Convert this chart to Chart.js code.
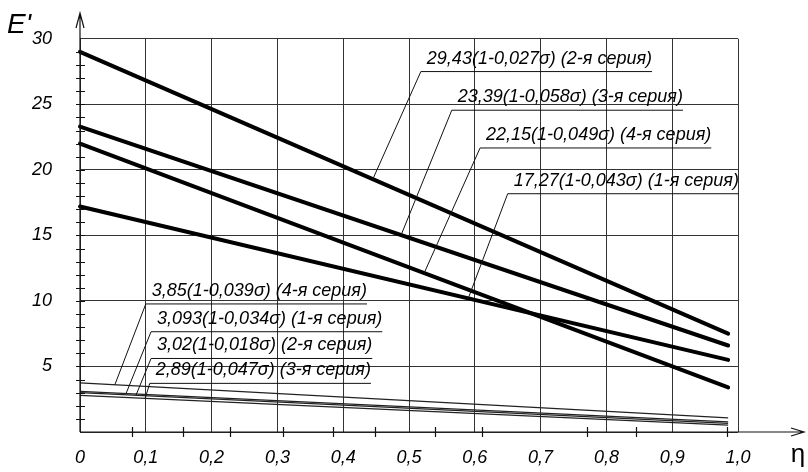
<!DOCTYPE html>
<html>
<head>
<meta charset="utf-8">
<script src="https://cdn.jsdelivr.net/npm/chart.js@4.4.1/dist/chart.umd.min.js"></script>
<style>
  body { margin: 0; background: #fff; }
  canvas { display: block; }
</style>
</head>
<body>
<canvas id="eChart" width="808" height="472"></canvas>
<script>
// eta points where every line starts and stops
const etaPts = [0, 0.985];

// thick lines E'
const s2Values = [29.0, 7.5];   // 29,43 (2-я серия)
const s3Values = [23.3, 6.6];   // 23,39 (3-я серия)
const s4Values = [22.0, 3.4];   // 22,15 (4-я серия)
const s1Values = [17.2, 5.5];   // 17,27 (1-я серия)
// thin lines
const t4Values = [3.75, 1.08];  // 3,85 (4-я серия)
const t1Values = [3.1, 0.78];   // 3,093 (1-я серия)
const t2Values = [3.0, 0.66];   // 3,02 (2-я серия)
const t3Values = [2.8, 0.53];   // 2,89 (3-я серия)

const xTickLabels = ['0', '0,1', '0,2', '0,3', '0,4', '0,5', '0,6', '0,7', '0,8', '0,9', '1,0'];
const yTickLabels = ['', '5', '10', '15', '20', '25', '30'];
const xMinorTicks = [0.079, 0.157, 0.228, 0.309, 0.385, 0.448, 0.540, 0.611, 0.771, 0.845, 0.983];

// callouts: text, dataset index, eta where leader hits the line, underline start (eta, E')
const calloutText = [
  '29,43(1-0,027σ) (2-я серия)',
  '23,39(1-0,058σ) (3-я серия)',
  '22,15(1-0,049σ) (4-я серия)',
  '17,27(1-0,043σ) (1-я серия)',
  '3,85(1-0,039σ) (4-я серия)',
  '3,093(1-0,034σ) (1-я серия)',
  '3,02(1-0,018σ) (2-я серия)',
  '2,89(1-0,047σ) (3-я серия)'
];
const calloutSeries = [0, 1, 2, 3, 4, 5, 6, 7];
const calloutEta = [0.445, 0.488, 0.523, 0.590, 0.053, 0.070, 0.085, 0.099];
const calloutX = [0.518, 0.565, 0.608, 0.650, 0.100, 0.108, 0.108, 0.106];
const calloutY = [27.5, 24.55, 21.67, 18.18, 9.77, 7.65, 5.61, 3.71];

const FONT = '"Liberation Sans", Arial, sans-serif';

function pts(values) {
  return etaPts.map((e, i) => ({ x: e, y: values[i] }));
}

function thick(values) {
  return { data: pts(values), borderColor: '#000', borderWidth: 4, borderCapStyle: 'round', pointRadius: 0 };
}
function thin(values) {
  return { data: pts(values), borderColor: '#222', borderWidth: 1.2, pointRadius: 0 };
}

const sketchPlugin = {
  id: 'sketch',
  afterDatasetsDraw(chart) {
    const { ctx, chartArea: a, scales: { x, y } } = chart;
    ctx.save();
    ctx.strokeStyle = '#111';
    ctx.lineWidth = 1.2;

    // axes with open arrows
    ctx.beginPath();
    ctx.moveTo(a.left, a.bottom); ctx.lineTo(a.left, 13);
    ctx.moveTo(a.left - 4, 28); ctx.lineTo(a.left, 13); ctx.lineTo(a.left + 4, 28);
    ctx.moveTo(a.left, a.bottom); ctx.lineTo(804, a.bottom);
    ctx.moveTo(791, a.bottom - 4); ctx.lineTo(804, a.bottom); ctx.lineTo(791, a.bottom + 4);
    ctx.stroke();

    // minor ticks
    ctx.beginPath();
    for (let v = 1; v < 30; v++) {
      const py = Math.round(y.getPixelForValue(v)) + 0.5;
      ctx.moveTo(a.left - 4, py); ctx.lineTo(a.left + 5, py);
    }
    xMinorTicks.forEach(t => {
      const px = Math.round(x.getPixelForValue(t)) + 0.5;
      ctx.moveTo(px, a.bottom - 5); ctx.lineTo(px, a.bottom + 5);
    });
    ctx.stroke();

    // callouts
    ctx.font = 'italic 18px ' + FONT;
    ctx.fillStyle = '#000';
    ctx.textAlign = 'left';
    ctx.textBaseline = 'alphabetic';
    ctx.lineWidth = 1;
    calloutText.forEach((txt, i) => {
      const meta = chart.getDatasetMeta(calloutSeries[i]).data;
      const p0 = meta[0], p1 = meta[1];
      const f = (x.getPixelForValue(calloutEta[i]) - p0.x) / (p1.x - p0.x);
      const ex = p0.x + f * (p1.x - p0.x);
      const ey = p0.y + f * (p1.y - p0.y);
      const ux = x.getPixelForValue(calloutX[i]);
      const uy = y.getPixelForValue(calloutY[i]);
      const w = ctx.measureText(txt).width;
      ctx.beginPath();
      ctx.moveTo(ex, ey); ctx.lineTo(ux, uy); ctx.lineTo(ux + 6 + w, uy);
      ctx.stroke();
      ctx.fillText(txt, ux + 6, uy - 8);
    });

    // axis titles
    ctx.font = 'italic 28px ' + FONT;
    ctx.fillText("E'", 7, 33);
    ctx.font = '26px ' + FONT;
    ctx.textAlign = 'center';
    ctx.fillText('η', 798, 462);
    ctx.restore();
  }
};

new Chart(document.getElementById('eChart').getContext('2d'), {
  type: 'line',
  data: {
    datasets: [
      thick(s2Values), thick(s3Values), thick(s4Values), thick(s1Values),
      thin(t4Values), thin(t1Values), thin(t2Values), thin(t3Values)
    ]
  },
  options: {
    responsive: false,
    animation: false,
    clip: false,
    layout: { padding: { left: 0, right: 70, top: 36, bottom: 0 } },
    plugins: { legend: { display: false }, tooltip: { enabled: false } },
    scales: {
      x: {
        type: 'linear',
        min: 0,
        max: 1,
        afterFit: s => { s.height = 40; },
        border: { display: false },
        grid: { color: '#333', lineWidth: 1, drawTicks: false },
        ticks: {
          stepSize: 0.1,
          padding: 15,
          maxRotation: 0,
          autoSkip: false,
          color: '#000',
          font: { family: FONT, size: 18, style: 'italic' },
          callback: (v, i) => xTickLabels[i]
        }
      },
      y: {
        min: 0,
        max: 30,
        afterFit: s => { s.width = 80; },
        border: { display: false },
        grid: { color: '#333', lineWidth: 1, drawTicks: false },
        ticks: {
          stepSize: 5,
          padding: 28,
          color: '#000',
          font: { family: FONT, size: 18, style: 'italic' },
          callback: (v, i) => yTickLabels[i]
        }
      }
    }
  },
  plugins: [sketchPlugin]
});
</script>
</body>
</html>
